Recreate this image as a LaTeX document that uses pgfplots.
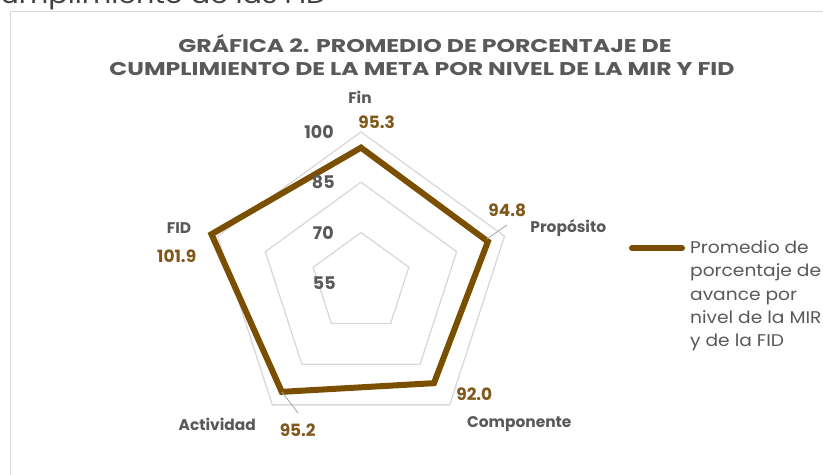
\documentclass[border=0pt]{standalone}
\usepackage{pgfplots}
\pgfplotsset{compat=1.18}
\usepackage{pgfplotstable}
\usepackage{fontspec}
\setmainfont{Poppins}
\newfontfamily\titlefont[FakeStretch=1.28]{Poppins}
\newfontfamily\legfont[FakeStretch=1.1]{Poppins}
\newfontfamily\capfont[FakeStretch=1.15]{Poppins}
\definecolor{linebrown}{HTML}{7B4F00}
\definecolor{labbrown}{HTML}{80581A}
\definecolor{txtgray}{HTML}{595959}
\definecolor{gridgray}{HTML}{D9D9D9}
\pgfplotstableread{
a v
90 95.3
18 94.8
-54 92.0
-126 95.2
162 101.9
}\datatab
\pgfplotstableread{
a v
90 70
18 70
-54 70
-126 70
162 70
90 70
}\ringA
\pgfplotstableread{
a v
90 85
18 85
-54 85
-126 85
162 85
90 85
}\ringB
\pgfplotstableread{
a v
90 100
18 100
-54 100
-126 100
162 100
90 100
}\ringC
\begin{document}
\begin{tikzpicture}
\clip (0bp,0bp) rectangle (823bp,475bp);
\fill[white] (0bp,0bp) rectangle (823bp,475bp);
\begin{axis}[hide axis, scale only axis, x=3.353bp, y=3.353bp,
  xmin=-50, xmax=50, ymin=-50, ymax=50, anchor=center, at={(361bp,192.2bp)}, clip=false]
\addplot[gridgray, line width=1.3bp, data cs=polar, line join=miter] table[x=a, y expr=\thisrow{v}-55] {\ringA};
\addplot[gridgray, line width=1.3bp, data cs=polar, line join=miter] table[x=a, y expr=\thisrow{v}-55] {\ringB};
\addplot[gridgray, line width=1.3bp, data cs=polar, line join=miter] table[x=a, y expr=\thisrow{v}-55] {\ringC};
\addplot[linebrown, line width=6bp, data cs=polar, line join=miter, miter limit=3] table[x=a, y expr=\thisrow{v}-55] {\datatab} -- cycle;
\end{axis}
\begin{scope}[shift={(0bp,475bp)}, x=1bp, y=-1bp]
% clipped caption above frame
\node[anchor=base west, inner sep=0pt, text=black!75, font=\capfont\fontsize{25}{27}\selectfont] at (-17,4) {cumplimiento de las FID};
% frame
\draw[gridgray, line width=1bp] (10,480) -- (10,12) -- (830,12);
% title
\node[anchor=base, inner sep=0pt, text=txtgray, font=\titlefont\bfseries\fontsize{18.5}{20}\selectfont] at (425,53) {GRÁFICA 2. PROMEDIO DE PORCENTAJE DE};
\node[anchor=base, inner sep=0pt, text=txtgray, font=\titlefont\bfseries\fontsize{18.5}{20}\selectfont] at (422,75.5) {CUMPLIMIENTO DE LA META POR NIVEL DE LA MIR Y FID};
% leader lines
\draw[gray!70, line width=0.8bp] (487,239) -- (507,225);
\draw[gray!70, line width=0.8bp] (282,392) -- (298,413);
% radial tick labels
\begin{scope}[every node/.style={text=txtgray, font=\bfseries\fontsize{17.5}{20}\selectfont}]
\node at (319,131.7) {100};
\node at (323.3,182.3) {85};
\node at (323.3,233.3) {70};
\node at (324.3,283.3) {55};
\end{scope}
% category labels
\begin{scope}[every node/.style={text=txtgray, font=\bfseries\fontsize{15.5}{17}\selectfont}]
\node at (360,97) {Fin};
\node at (568.3,227.7) {Propósito};
\node at (519.3,424.3) {Componente};
\node at (217.3,424.3) {Actividad};
\node at (179,227.7) {FID};
\end{scope}
% data labels
\begin{scope}[every node/.style={text=labbrown, font=\bfseries\fontsize{17}{20}\selectfont}]
\node at (376.7,122.7) {95.3};
\node at (507.3,210.7) {94.8};
\node at (474.3,394) {92.0};
\node at (297.7,430) {95.2};
\node at (176.7,256.7) {101.9};
\end{scope}
% legend
\draw[linebrown, line width=6bp, line cap=round] (632,248.3) -- (682,248.3);
\begin{scope}[every node/.style={anchor=base west, inner sep=0pt, text=txtgray, font=\legfont\fontsize{17}{20}\selectfont}]
\node at (690,253.5) {Promedio de};
\node at (690,276.8) {porcentaje de};
\node at (690,300.1) {avance por};
\node at (690,323.4) {nivel de la MIR};
\node at (690,346.7) {y de la FID};
\end{scope}
\end{scope}
\end{tikzpicture}
\end{document}
